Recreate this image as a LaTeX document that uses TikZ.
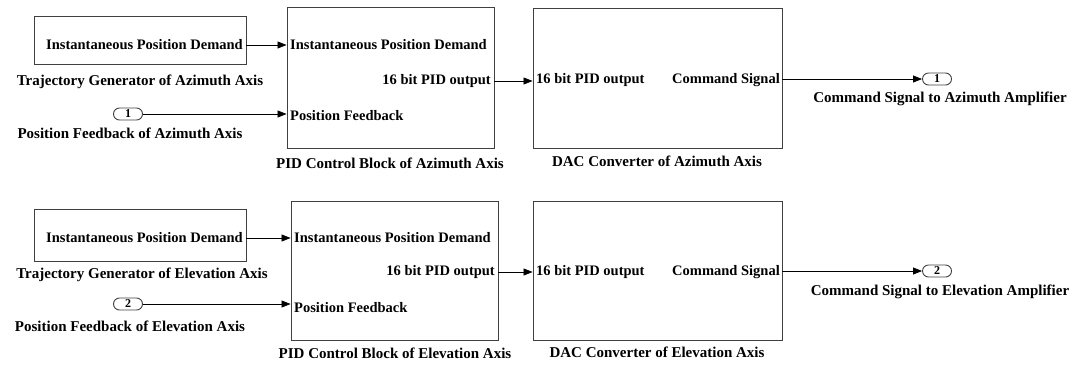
\documentclass[tikz,border=0pt]{standalone}
\usepackage{fontspec}
\setmainfont{Liberation Serif}
\usetikzlibrary{arrows.meta}

\begin{document}
\begin{tikzpicture}[x=1pt, y=-1pt,
    font=\bfseries\fontsize{14.5}{16}\selectfont,
    block/.style={draw=black!75, line width=0.9pt, inner sep=0pt},
    lbl/.style={font=\bfseries\fontsize{15}{17}\selectfont},
    port/.style={draw=black!75, line width=0.9pt, rounded corners=6pt,
        minimum width=29pt, minimum height=12pt, inner sep=0pt,
        font=\bfseries\fontsize{12}{12}\selectfont},
    sig/.style={-{Triangle[length=9pt, width=7pt]}, line width=0.8pt}]
    \useasboundingbox (0,0) rectangle (1078,365);
    % Azimuth axis
    \node[block, minimum width=212pt, minimum height=48pt] (trajAz) at (140,40) {};
    \node[anchor=east, inner sep=1pt] (trajAzOut) at (244,45) {Instantaneous Position Demand};
    \node[lbl] (trajAzLbl) at (140,82) {Trajectory Generator of Azimuth Axis};
    \node[port] (fbAz) at (128,114) {1};
    \node[lbl] (fbAzLbl) at (130,133) {Position Feedback of Azimuth Axis};
    \node[block, minimum width=207pt, minimum height=141pt] (pidAz) at (390.5,77.5) {};
    \node[anchor=west, inner sep=1pt] (pidAzIn) at (289,45) {Instantaneous Position Demand};
    \node[anchor=west, inner sep=1pt] (pidAzFb) at (289,116) {Position Feedback};
    \node[anchor=east, inner sep=1pt] (pidAzOut) at (492,81) {16 bit PID output};
    \node[lbl] (pidAzLbl) at (390,163) {PID Control Block of Azimuth Axis};
    \node[block, minimum width=249pt, minimum height=140pt] (dacAz) at (657.5,78) {};
    \node[anchor=west, inner sep=1pt] (dacAzIn) at (535,80) {16 bit PID output};
    \node[anchor=east, inner sep=1pt] (dacAzOut) at (781,80) {Command Signal};
    \node[lbl] (dacAzLbl) at (657,161) {DAC Converter of Azimuth Axis};
    \node[port] (outAz) at (937,79) {1};
    \node[lbl] (outAzLbl) at (940,99) {Command Signal to Azimuth Amplifier};
    \draw[sig] (trajAz.east |- trajAzOut) -- (pidAz.west |- trajAzOut);
    \draw[sig] (fbAz) -- (pidAz.west |- fbAz);
    \draw[sig] (pidAz.east |- pidAzOut) -- (dacAz.west |- pidAzOut);
    \draw[sig] (dacAz.east |- outAz) -- (outAz);
    % Elevation axis
    \node[block, minimum width=212pt, minimum height=52pt] (trajEl) at (140,235) {};
    \node[anchor=east, inner sep=1pt] (trajElOut) at (244,238) {Instantaneous Position Demand};
    \node[lbl] (trajElLbl) at (142,275) {Trajectory Generator of Elevation Axis};
    \node[port] (fbEl) at (128,304) {2};
    \node[lbl] (fbElLbl) at (130,326) {Position Feedback of Elevation Axis};
    \node[block, minimum width=207pt, minimum height=139pt] (pidEl) at (394.5,270.5) {};
    \node[anchor=west, inner sep=1pt] (pidElIn) at (293,238) {Instantaneous Position Demand};
    \node[anchor=west, inner sep=1pt] (pidElFb) at (293,308) {Position Feedback};
    \node[anchor=east, inner sep=1pt] (pidElOut) at (496,272) {16 bit PID output};
    \node[lbl] (pidElLbl) at (395,353) {PID Control Block of Elevation Axis};
    \node[block, minimum width=249pt, minimum height=139pt] (dacEl) at (657.5,270.5) {};
    \node[anchor=west, inner sep=1pt] (dacElIn) at (535,272) {16 bit PID output};
    \node[anchor=east, inner sep=1pt] (dacElOut) at (781,272) {Command Signal};
    \node[lbl] (dacElLbl) at (657,352) {DAC Converter of Elevation Axis};
    \node[port] (outEl) at (937,271) {2};
    \node[lbl] (outElLbl) at (940,292) {Command Signal to Elevation Amplifier};
    \draw[sig] (trajEl.east |- trajElOut) -- (pidEl.west |- trajElOut);
    \draw[sig] (fbEl) -- (pidEl.west |- fbEl);
    \draw[sig] (pidEl.east |- pidElOut) -- (dacEl.west |- pidElOut);
    \draw[sig] (dacEl.east |- outEl) -- (outEl);
\end{tikzpicture}
\end{document}
